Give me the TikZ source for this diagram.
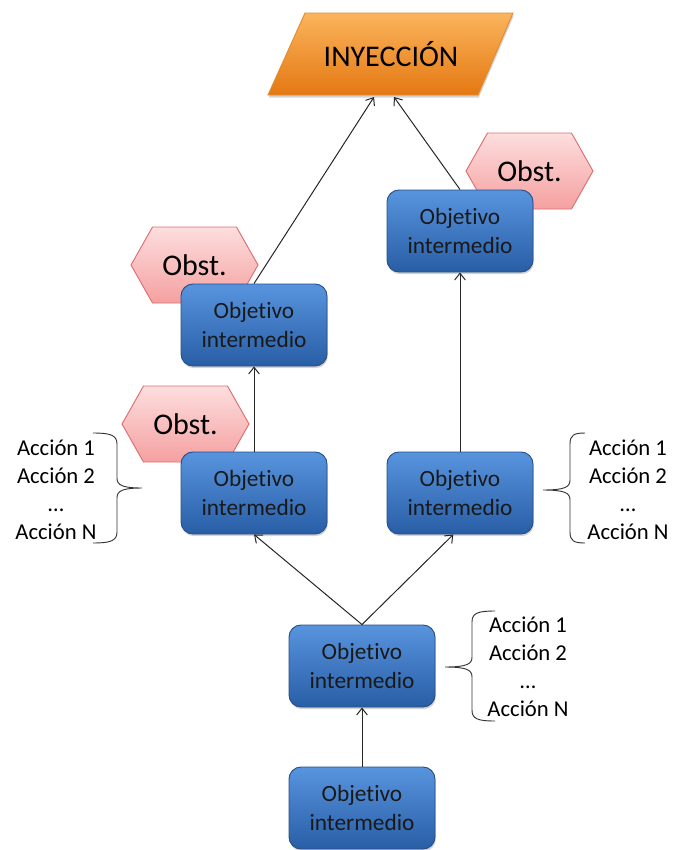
\documentclass[tikz,border=0pt]{standalone}
\usepackage{fontspec}
\setmainfont{Carlito}[Ligatures=NoCommon]
\usetikzlibrary{arrows.meta,shadows}

\definecolor{boxtop}{RGB}{88,148,222}
\definecolor{boxbot}{RGB}{40,94,166}
\definecolor{boxedge}{RGB}{40,78,135}
\definecolor{hextop}{RGB}{253,222,222}
\definecolor{hexbot}{RGB}{245,160,160}
\definecolor{hexedge}{RGB}{220,110,110}
\definecolor{orgtop}{RGB}{251,180,92}
\definecolor{orgbot}{RGB}{228,120,18}
\definecolor{orgedge}{RGB}{226,140,50}

\tikzset{
  objbox/.style={rectangle, rounded corners=9pt, minimum width=109.5pt,
    minimum height=61.5pt, top color=boxtop, bottom color=boxbot,
    draw=boxedge, line width=0.7pt, align=center, text=black!90,
    font=\fontsize{17.5}{22}\selectfont,
    drop shadow={shadow xshift=0.6pt, shadow yshift=-1.6pt, opacity=0.35}},
  hexfill/.style={top color=hextop, bottom color=hexbot, draw=hexedge, line width=0.7pt},
  obsttext/.style={font=\fontsize{22.5}{27}\selectfont, text=black},
  obst/.pic={
    \path[hexfill] (-63.5,0) -- (-42,-38) -- (42,-38) -- (63.5,0)
      -- (42,38) -- (-42,38) -- cycle;
    \node[obsttext] (-text) at (0,0) {Obst.};
  },
  acts/.style={align=center, font=\fontsize{17}{21}\selectfont, text=black},
  arr/.style={draw=black!85, line width=0.75pt, -{Straight Barb[length=5pt,width=8pt]}},
  bracestyle/.style={draw=black!80, line width=0.7pt}
}

\begin{document}
\begin{tikzpicture}[x=0.75pt,y=-0.75pt]
\useasboundingbox (0,0) rectangle (672,850);

% injection parallelogram
\path[top color=orgtop, bottom color=orgbot, draw=orgedge, line width=0.7pt,
  drop shadow={shadow xshift=0.6pt, shadow yshift=-2pt, opacity=0.35}]
  (268,95) -- (305,13) -- (513,13) -- (478,95) -- cycle;
\node[font=\fontsize{22.5}{27}\selectfont, text=black] (inj) at (391,54) {INYECCIÓN};
\coordinate (inj-in1) at (374,97);
\coordinate (inj-in2) at (394,97);

% obstacles
\pic (o1) at (194.5,265) {obst};
\pic (o2) at (185.5,424) {obst};
\pic (o3) at (529.5,171) {obst};

% intermediate objectives
\node[objbox] (A) at (254,325) {Objetivo\\intermedio};
\node[objbox] (B) at (254,493) {Objetivo\\intermedio};
\node[objbox] (C) at (460,231) {Objetivo\\intermedio};
\node[objbox] (D) at (460,493) {Objetivo\\intermedio};
\node[objbox] (E) at (362,666) {Objetivo\\intermedio};
\node[objbox] (F) at (362,808) {Objetivo\\intermedio};

% connectors
\draw[arr] (A.north) -- (inj-in1);
\draw[arr] (C.north) -- (inj-in2);
\draw[arr] (B.north) -- (A.south);
\draw[arr] (D.north) -- (C.south);
\draw[arr] (E.north) -- (B.south);
\draw[arr] (E.north) -- ([xshift=-5pt]D.south);
\draw[arr] (F.north) -- (E.south);

% action lists
\node[acts] (actL) at (56,490) {Acción 1\\Acción 2\\…\\Acción N};
\node[acts] (actD) at (628,490) {Acción 1\\Acción 2\\…\\Acción N};
\node[acts] (actE) at (528,667) {Acción 1\\Acción 2\\…\\Acción N};

% braces
\draw[bracestyle] (93,433) .. controls (110,433) and (117,435) .. (117,444)
  -- (117,478) .. controls (117,485) and (122,488) .. (142,488)
  .. controls (122,488) and (117,491) .. (117,498)
  -- (117,532) .. controls (117,541) and (110,543) .. (93,543);
\draw[bracestyle] (585,433) .. controls (574,433) and (570,435) .. (570,444)
  -- (570,480) .. controls (570,487) and (565,490) .. (543,490)
  .. controls (565,490) and (570,493) .. (570,500)
  -- (570,532) .. controls (570,541) and (574,543) .. (585,543);
\draw[bracestyle] (495,611) .. controls (478,611) and (472,613) .. (472,622)
  -- (472,657) .. controls (472,664) and (467,667) .. (445,667)
  .. controls (467,667) and (472,670) .. (472,677)
  -- (472,710) .. controls (472,719) and (478,721) .. (495,721);
\end{tikzpicture}
\end{document}
